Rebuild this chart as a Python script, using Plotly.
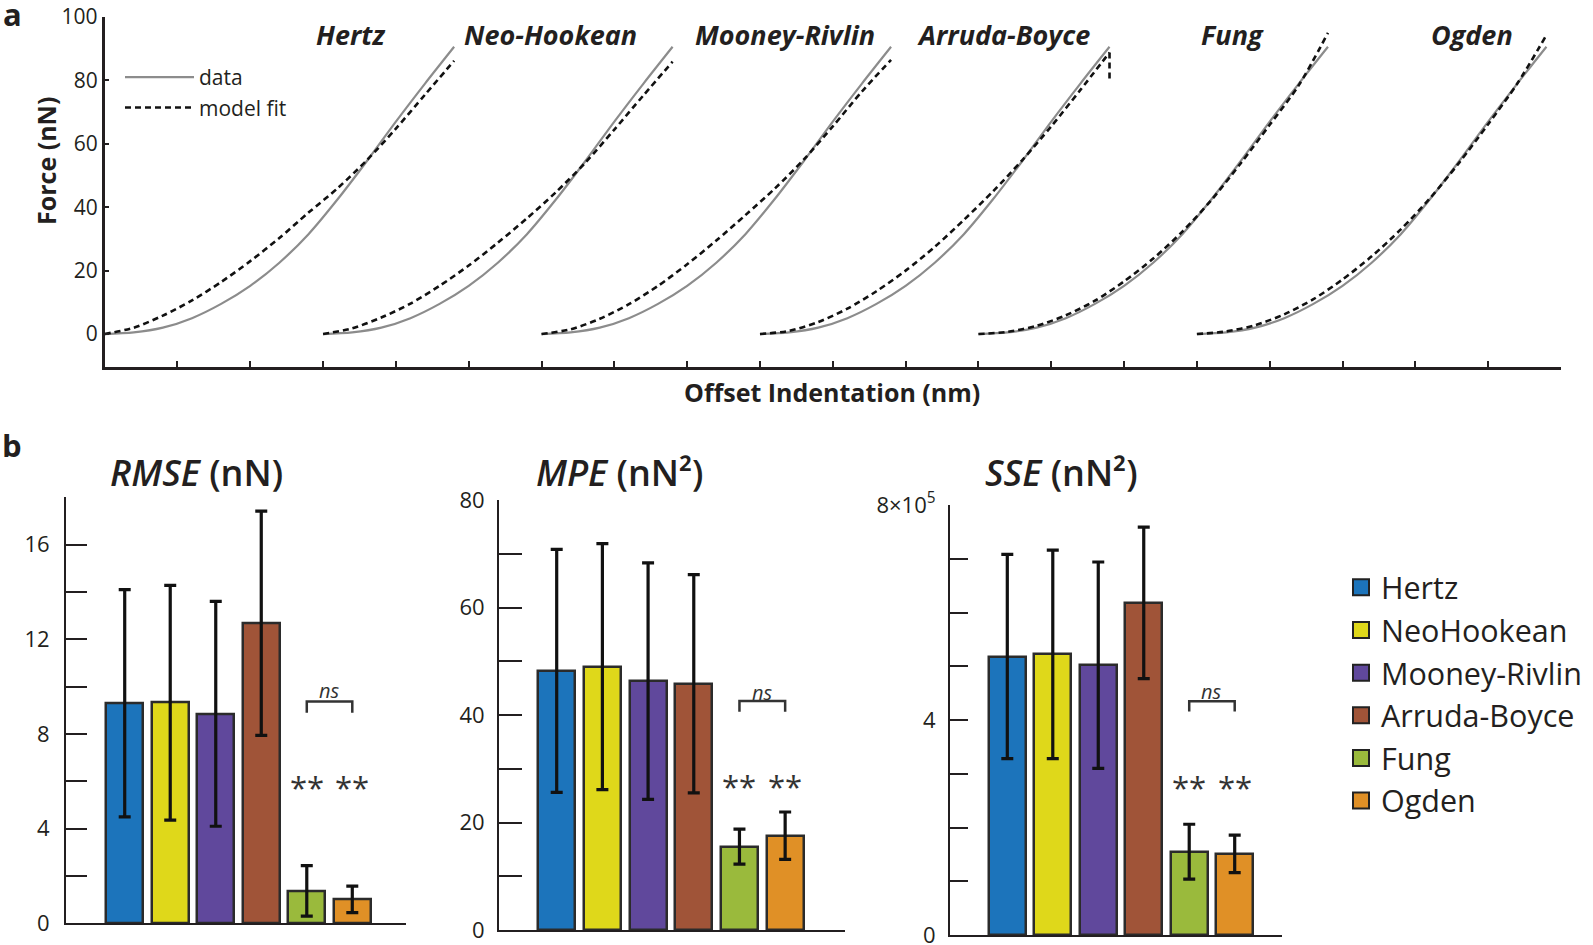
import plotly.graph_objects as go

W, H = 1593, 945
INK = "#231f20"
FONT = "Open Sans"

# ---------------- Panel a : force curves ----------------
models = ["Hertz", "Neo-Hookean", "Mooney-Rivlin", "Arruda-Boyce", "Fung", "Ogden"]
curve_offsets = [0, 3, 6, 9, 12, 15]          # horizontal offset of each curve (axis units)
rel_indent = [0.0, 0.4, 0.8, 1.2, 1.6, 2.0, 2.4, 2.8, 3.2, 3.6, 4.0, 4.4, 4.8]
force_data = [0, 0.5, 2.0, 5.0, 9.5, 15.2, 22.5, 31.5, 42.5, 54.5, 67.0, 79.0, 90.6]
fit_hertz = [0, 2.0, 5.8, 10.6, 16.4, 23.0, 30.3, 38.3, 46.0, 54.8, 64.8, 75.5, 86.2]
fit_neo = [0, 1.8, 5.2, 9.6, 15.2, 21.6, 28.8, 36.5, 44.8, 54.0, 64.5, 75.3, 85.9]
fit_mooney = [0, 1.5, 4.8, 9.4, 15.2, 22.0, 29.5, 37.5, 45.8, 55.0, 65.5, 76.5, 86.5]
fit_arruda = [0, 1.0, 3.8, 8.0, 13.5, 20.0, 27.5, 36.0, 45.0, 54.8, 65.5, 77.0, 88.8]
fit_fung = [0, 0.7, 2.6, 5.9, 10.5, 16.6, 23.8, 32.3, 42.3, 53.8, 66.0, 78.5, 95.0]
fit_ogden = [0, 0.8, 2.8, 6.2, 11.0, 17.2, 24.5, 33.0, 42.8, 54.0, 66.2, 79.0, 94.3]
arruda_tail_force = [88.8, 80.0]               # final drop of the Arruda-Boyce fit
model_label_x = [3.37, 6.12, 9.35, 12.34, 15.49, 18.78]
model_label_y = 94.5
fits = [fit_hertz, fit_neo, fit_mooney, fit_arruda, fit_fung, fit_ogden]

# ---------------- Panel b : error metrics ----------------
bar_labels = ["Hertz", "NeoHookean", "Mooney-Rivlin", "Arruda-Boyce", "Fung", "Ogden"]
bar_colors = ["#1c74bb", "#dfd81a", "#60489c", "#a05438", "#9aba3c", "#e09026"]
rmse_mean = [9.30, 9.32, 8.85, 12.68, 1.37, 1.01]
rmse_err = [4.80, 4.96, 4.75, 4.74, 1.07, 0.56]
mpe_mean = [48.2, 49.0, 46.3, 45.8, 15.5, 17.55]
mpe_err = [22.6, 22.9, 22.0, 20.3, 3.25, 4.4]
sse_mean = [5.18e5, 5.22e5, 5.02e5, 6.18e5, 1.55e5, 1.51e5]
sse_err = [1.90e5, 1.94e5, 1.92e5, 1.41e5, 0.51e5, 0.35e5]
sig_pair = [4, 5]                      # Fung vs Ogden : ns
ns_bracket_top = [9.37, 42.6, 4.35e5]
ns_bracket_leg = [8.90, 40.6, 4.16e5]
ns_text_y = [9.85, 44.2, 4.53e5]
star_y = [5.75, 26.7, 2.75e5]

fig = go.Figure()

# ---- panel a traces
for i, off in enumerate(curve_offsets):
    xs = [off + r for r in rel_indent]
    fig.add_trace(go.Scatter(
        x=xs, y=force_data, mode="lines", name="data", legend="legend",
        showlegend=(i == 0), line=dict(color="#8c8c8c", width=2.2, shape="spline", smoothing=0.8),
        xaxis="x", yaxis="y", hoverinfo="skip"))
    fig.add_trace(go.Scatter(
        x=xs, y=fits[i], mode="lines", name="model fit", legend="legend",
        showlegend=(i == 0), line=dict(color="#111111", width=2.6, dash="6px,4px", shape="spline", smoothing=0.8),
        xaxis="x", yaxis="y", hoverinfo="skip"))
    if models[i] == "Arruda-Boyce":
        fig.add_trace(go.Scatter(
            x=[xs[-1], xs[-1]], y=arruda_tail_force, mode="lines", showlegend=False,
            line=dict(color="#111111", width=2.6, dash="6px,4px"),
            xaxis="x", yaxis="y", hoverinfo="skip"))

# ---- panel b traces
panels = [(rmse_mean, rmse_err), (mpe_mean, mpe_err), (sse_mean, sse_err)]
for p, (means, errs) in enumerate(panels):
    xa, ya = f"x{p + 2}", f"y{p + 2}"
    fig.add_trace(go.Bar(
        x=list(range(len(means))), y=means, width=0.81,
        marker=dict(color=bar_colors, line=dict(color="#2b2b2b", width=2.5)),
        error_y=dict(type="data", array=errs, visible=True, color="#111111", thickness=3.2, width=6),
        showlegend=False, xaxis=xa, yaxis=ya, hoverinfo="skip"))
    a, b = sig_pair
    fig.add_trace(go.Scatter(
        x=[a, a, b, b], y=[ns_bracket_leg[p], ns_bracket_top[p], ns_bracket_top[p], ns_bracket_leg[p]],
        mode="lines", line=dict(color="#333333", width=2.5), showlegend=False,
        xaxis=xa, yaxis=ya, hoverinfo="skip"))
    fig.add_annotation(x=(a + b) / 2, y=ns_text_y[p], xref=xa, yref=ya, text="<i>ns</i>",
                       showarrow=False, xanchor="center", yanchor="middle",
                       font=dict(size=20, color="#333333"))
    for k in sig_pair:
        fig.add_annotation(x=k, y=star_y[p], xref=xa, yref=ya, text="**",
                           showarrow=False, xanchor="center", yanchor="middle",
                           font=dict(size=31, color="#333333"))

# legend proxies for bars
for lab, col in zip(bar_labels, bar_colors):
    fig.add_trace(go.Scatter(
        x=[None], y=[None], mode="markers", name=lab, legend="legend2",
        marker=dict(symbol="square", size=16, color=col, line=dict(color="#222222", width=2)),
        xaxis="x2", yaxis="y2"))


def px_x(v):
    return v / W


def px_y(v):
    return 1 - v / H


axis_common = dict(showgrid=False, zeroline=False, showline=True, linecolor=INK, automargin=False)

fig.update_layout(
    width=W, height=H, margin=dict(l=0, r=0, t=0, b=0, autoexpand=False),
    paper_bgcolor="white", plot_bgcolor="white",
    font=dict(family=FONT, color=INK),
    bargap=0,
    xaxis=dict(domain=[px_x(104.6), px_x(1561)], range=[0, 20], anchor="y",
               ticks="inside", ticklen=6, tickwidth=2, tickcolor=INK, tick0=0, dtick=1,
               showticklabels=False, linewidth=2.5, **axis_common),
    yaxis=dict(domain=[px_y(367), px_y(17)], range=[-10.4, 100], anchor="x",
               tickvals=[0, 20, 40, 60, 80, 100], ticks="inside", ticklen=5, tickwidth=2,
               tickcolor=INK, tickfont=dict(size=21, color=INK), ticklabelstandoff=0,
               linewidth=2.5, **axis_common),
    xaxis2=dict(domain=[px_x(66), px_x(406)], range=[-1.29, 6.18], anchor="y2",
                showticklabels=False, ticks="", linewidth=2, **axis_common),
    yaxis2=dict(domain=[px_y(923.3), px_y(497.3)], range=[0, 18], anchor="x2",
                tick0=0, dtick=4, ticks="inside", ticklen=21, tickwidth=2, tickcolor=INK,
                minor=dict(tick0=0, dtick=2, ticks="inside", ticklen=21, tickwidth=2, tickcolor=INK),
                tickfont=dict(size=22, color=INK), ticklabelstandoff=10, linewidth=2,
                ticklabeloverflow="allow", **axis_common),
    xaxis3=dict(domain=[px_x(499), px_x(845)], range=[-1.263, 6.31], anchor="y3",
                showticklabels=False, ticks="", linewidth=2, **axis_common),
    yaxis3=dict(domain=[px_y(930), px_y(500)], range=[0, 80], anchor="x3",
                tick0=0, dtick=20, ticks="inside", ticklen=23, tickwidth=2, tickcolor=INK,
                minor=dict(tick0=0, dtick=10, ticks="inside", ticklen=23, tickwidth=2, tickcolor=INK),
                tickfont=dict(size=22, color=INK), ticklabelstandoff=8, linewidth=2,
                ticklabeloverflow="allow", **axis_common),
    xaxis4=dict(domain=[px_x(950), px_x(1282)], range=[-1.26, 6.04], anchor="y4",
                showticklabels=False, ticks="", linewidth=2, **axis_common),
    yaxis4=dict(domain=[px_y(935), px_y(505)], range=[0, 8e5], anchor="x4",
                tickmode="array", tickvals=[0, 4e5, 8e5], ticktext=["0", "4", "8×10<sup>5</sup>"],
                ticks="inside", ticklen=18, tickwidth=2, tickcolor=INK,
                minor=dict(tickmode="linear", tick0=0, dtick=1e5, ticks="inside", ticklen=18,
                           tickwidth=2, tickcolor=INK),
                tickfont=dict(size=22, color=INK), ticklabelstandoff=8, linewidth=2,
                ticklabeloverflow="allow", **axis_common),
    legend=dict(x=px_x(120), y=px_y(57), xanchor="left", yanchor="top",
                font=dict(size=21, color=INK), bgcolor="rgba(0,0,0,0)", itemwidth=69,
                tracegroupgap=0),
    legend2=dict(x=px_x(1341), y=px_y(561), xanchor="left", yanchor="top",
                 font=dict(size=30.5, color=INK), bgcolor="rgba(0,0,0,0)", tracegroupgap=0),
)

# model names in panel a
for name, lx in zip(models, model_label_x):
    fig.add_annotation(x=lx, y=model_label_y, xref="x", yref="y", text=f"<b><i>{name}</i></b>",
                       showarrow=False, xanchor="center", yanchor="middle",
                       font=dict(size=27, color=INK))

# panel letters and axis titles
fig.add_annotation(x=px_x(12), y=px_y(14), xref="paper", yref="paper", text="<b>a</b>",
                   showarrow=False, xanchor="center", yanchor="middle", font=dict(size=31, color=INK))
fig.add_annotation(x=px_x(12), y=px_y(445), xref="paper", yref="paper", text="<b>b</b>",
                   showarrow=False, xanchor="center", yanchor="middle", font=dict(size=31, color=INK))
fig.add_annotation(x=px_x(46), y=px_y(161), xref="paper", yref="paper", text="<b>Force (nN)</b>",
                   textangle=-90, showarrow=False, xanchor="center", yanchor="middle",
                   font=dict(size=25, color=INK))
fig.add_annotation(x=px_x(832), y=px_y(392), xref="paper", yref="paper",
                   text="<b>Offset Indentation (nm)</b>", showarrow=False,
                   xanchor="center", yanchor="middle", font=dict(size=25, color=INK))

panel_titles = ["<i>RMSE</i> (nN)", "<i>MPE</i> (nN²)", "<i>SSE</i> (nN²)"]
title_cx = [196, 619, 1061]
for t, cx in zip(panel_titles, title_cx):
    fig.add_annotation(x=px_x(cx), y=px_y(473), xref="paper", yref="paper", text=t,
                       showarrow=False, xanchor="center", yanchor="middle",
                       font=dict(size=36, color=INK, weight=600))

fig.write_html("out.html", config={"displayModeBar": False},
               post_script="document.body.style.margin='0';document.body.style.overflow='hidden';")
